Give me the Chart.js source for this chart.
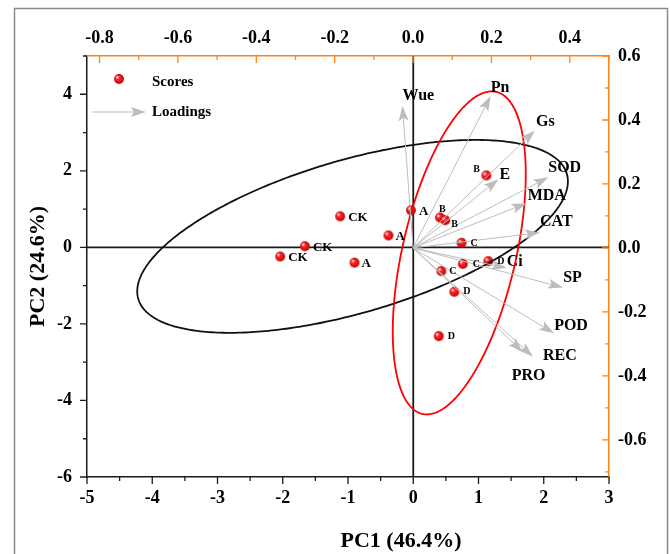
<!DOCTYPE html>
<html>
<head>
<meta charset="utf-8">
<script src="https://cdn.jsdelivr.net/npm/chart.js"></script>
<style>
  html, body { margin: 0; padding: 0; background: #fff; }
</style>
</head>
<body>
<canvas id="pca" width="670" height="554"></canvas>
<script>
// Scores on PC1 / PC2 (bottom + left axes)
const scoreLabels = ['CK', 'CK', 'CK', 'A', 'A', 'A', 'B', 'B', 'B', 'C', 'C', 'C', 'D', 'D', 'D'];
const scoreX = [-1.12, -1.66, -2.04, -0.38, -0.035, -0.90, 0.41, 0.49, 1.12, 0.74, 0.76, 0.43, 1.15, 0.63, 0.39];
const scoreY = [0.81, 0.03, -0.24, 0.31, 0.97, -0.40, 0.78, 0.71, 1.88, 0.12, -0.43, -0.62, -0.36, -1.16, -2.32];

// Loadings (top + right axes)
const loadingNames = ['Wue', 'Pn', 'Gs', 'E', 'SOD', 'MDA', 'CAT', 'Ci', 'SP', 'POD', 'REC', 'PRO'];
const loadingX = [-0.027, 0.198, 0.311, 0.218, 0.345, 0.290, 0.324, 0.239, 0.383, 0.360, 0.306, 0.280];
const loadingY = [0.444, 0.475, 0.367, 0.215, 0.221, 0.140, 0.048, -0.063, -0.124, -0.267, -0.340, -0.325];

// Confidence ellipses (score units): centre, half ranges, correlation
const ellipseCx = [-0.93, 0.705];
const ellipseCy = [0.287, -0.144];
const ellipseRx = [3.30, 1.019];
const ellipseRy = [2.52, 4.22];
const ellipseCorr = [0.57, 0.488];

const axisTitleX = 'PC1 (46.4%)';
const axisTitleY = 'PC2 (24.6%)';

const SERIF = "'Liberation Serif', 'Times New Roman', serif";
const ORANGE = '#ff8418';
const GREY = '#bdbdbd';
const ellipseColors = ['#111111', '#ff0000'];

// label placement (pixels, relative to the mark)
const scoreLabelOffsets = [[8, 1], [8, 1], [8, 1], [7, 1], [8, 1], [7, 1],
  [-1, -8], [6, 4], [-13, -6], [9, 1], [10, 1], [8, 0], [9, 0], [9, 0], [9, 0]];
const loadingLabelOffsets = [[0, -10], [0, -8], [1, -9], [1, -4], [0, -9], [1, -7],
  [0, -11], [0, -6], [0, -10], [0, -8], [10, -1], [-11, 24]];

// shaded red ball used for the score points
function makeSphere(r) {
    const c = document.createElement('canvas');
    const s = Math.ceil(r * 2) + 2;
    c.width = c.height = s;
    const g = c.getContext('2d');
    const m = s / 2;
    const grad = g.createRadialGradient(m - r * 0.4, m - r * 0.4, r * 0.1, m, m, r);
    grad.addColorStop(0, '#ffe0e0');
    grad.addColorStop(0.3, '#ff2a2a');
    grad.addColorStop(1, '#c00000');
    g.fillStyle = grad;
    g.beginPath();
    g.arc(m, m, r, 0, Math.PI * 2);
    g.fill();
    return c;
}
const sphere = makeSphere(4.9);

function drawArrow(ctx, x0, y0, x1, y1) {
    const a = Math.atan2(y1 - y0, x1 - x0);
    const len = 15, hw = 5, notch = 3;
    const bx = x1 - len * Math.cos(a), by = y1 - len * Math.sin(a);
    ctx.strokeStyle = GREY;
    ctx.fillStyle = GREY;
    ctx.lineWidth = 1;
    ctx.beginPath();
    ctx.moveTo(x0, y0);
    ctx.lineTo(bx + notch * Math.cos(a), by + notch * Math.sin(a));
    ctx.stroke();
    ctx.beginPath();
    ctx.moveTo(x1, y1);
    ctx.lineTo(bx - hw * Math.sin(a), by + hw * Math.cos(a));
    ctx.lineTo(bx + notch * Math.cos(a), by + notch * Math.sin(a));
    ctx.lineTo(bx + hw * Math.sin(a), by - hw * Math.cos(a));
    ctx.closePath();
    ctx.fill();
}

const pcaDecor = {
    id: 'pcaDecor',
    beforeDraw(chart) {
        const ctx = chart.ctx;
        ctx.save();
        ctx.strokeStyle = '#8a8a8a';
        ctx.lineWidth = 1.5;
        ctx.strokeRect(14.5, 8.5, 653, 600);
        ctx.restore();
    },
    beforeDatasetsDraw(chart) {
        const {ctx, chartArea: ca, scales} = chart;
        const x0 = scales.x.getPixelForValue(0);
        const y0 = scales.y.getPixelForValue(0);
        ctx.save();
        ctx.strokeStyle = '#1a1a1a';
        ctx.lineWidth = 1.8;
        ctx.beginPath();
        ctx.moveTo(ca.left, y0); ctx.lineTo(ca.right, y0);
        ctx.moveTo(x0, ca.top); ctx.lineTo(x0, ca.bottom);
        ctx.stroke();
        ctx.restore();
    },
    afterDatasetsDraw(chart) {
        const {ctx, chartArea: ca, scales} = chart;
        ctx.save();

        // ellipses
        ellipseCx.forEach((cx, k) => {
            const phi = Math.acos(ellipseCorr[k]);
            ctx.beginPath();
            for (let i = 0; i <= 360; i++) {
                const t = i * Math.PI / 180;
                const px = scales.x.getPixelForValue(cx + ellipseRx[k] * Math.cos(t));
                const py = scales.y.getPixelForValue(ellipseCy[k] + ellipseRy[k] * Math.cos(t - phi));
                if (i === 0) ctx.moveTo(px, py); else ctx.lineTo(px, py);
            }
            ctx.closePath();
            ctx.strokeStyle = ellipseColors[k];
            ctx.lineWidth = 1.8;
            ctx.stroke();
        });

        // loading arrows from the origin
        const ox = scales.x2.getPixelForValue(0);
        const oy = scales.y2.getPixelForValue(0);
        const lMeta = chart.getDatasetMeta(1);
        lMeta.data.forEach((pt, i) => drawArrow(ctx, ox, oy, pt.x, pt.y));

        ctx.fillStyle = '#000';
        ctx.textBaseline = 'middle';
        ctx.textAlign = 'left';
        ctx.font = `bold 16px ${SERIF}`;
        lMeta.data.forEach((pt, i) => {
            const [dx, dy] = loadingLabelOffsets[i];
            ctx.fillText(loadingNames[i], pt.x + dx, pt.y + dy);
        });

        // score labels
        const sMeta = chart.getDatasetMeta(0);
        sMeta.data.forEach((pt, i) => {
            const lab = scoreLabels[i];
            const size = (lab === 'CK' || lab === 'A') ? 13 : 10;
            ctx.font = `bold ${size}px ${SERIF}`;
            const [dx, dy] = scoreLabelOffsets[i];
            ctx.fillText(lab, pt.x + dx, pt.y + dy);
        });

        // legend
        const lx = ca.left, ly = ca.top;
        ctx.drawImage(sphere, lx + 32 - sphere.width / 2, ly + 23 - sphere.height / 2);
        drawArrow(ctx, lx + 5, ly + 56, lx + 59, ly + 56);
        ctx.font = `bold 15px ${SERIF}`;
        ctx.fillStyle = '#000';
        ctx.fillText(chart.data.datasets[0].label, lx + 65, ly + 26);
        ctx.fillText(chart.data.datasets[1].label, lx + 65, ly + 56);
        ctx.restore();
    },
    afterDraw(chart) {
        const {ctx, chartArea: ca, scales} = chart;
        ctx.save();
        ctx.lineWidth = 1.3;
        const marks = [
            {s: scales.x, major: v => Math.abs(v - Math.round(v)) < 1e-6, color: '#1a1a1a'},
            {s: scales.y, major: v => Math.round(v) % 2 === 0, color: '#1a1a1a'},
            {s: scales.x2, major: v => Math.round(v * 10) % 2 === 0, color: ORANGE},
            {s: scales.y2, major: v => Math.round(v * 10) % 2 === 0, color: ORANGE}
        ];
        marks.forEach(({s, major, color}) => {
            ctx.strokeStyle = color;
            ctx.beginPath();
            s.ticks.forEach(t => {
                if (t.value < s.min - 1e-9 || t.value > s.max + 1e-9) return;
                const len = major(t.value) ? 7 : 4;
                const p = s.getPixelForValue(t.value);
                if (s.id === 'x') { ctx.moveTo(p, ca.bottom); ctx.lineTo(p, ca.bottom + len); }
                if (s.id === 'x2') { ctx.moveTo(p, ca.top); ctx.lineTo(p, ca.top + len); }
                if (s.id === 'y') { ctx.moveTo(ca.left, p); ctx.lineTo(ca.left - len, p); }
                if (s.id === 'y2') { ctx.moveTo(ca.right, p); ctx.lineTo(ca.right - len, p); }
            });
            ctx.stroke();
        });

        // bottom axis title (sits right of the plot centre in the original)
        ctx.fillStyle = '#000';
        ctx.font = `bold 22px ${SERIF}`;
        ctx.textAlign = 'center';
        ctx.textBaseline = 'middle';
        ctx.fillText(axisTitleX, (ca.left + ca.right) / 2 + 53, 541);
        ctx.restore();
    }
};

const tickFont = {family: SERIF, weight: 'bold', size: 18};

new Chart(document.getElementById('pca'), {
    type: 'scatter',
    data: {
        datasets: [
            {
                label: 'Scores',
                data: scoreX.map((x, i) => ({x: x, y: scoreY[i]})),
                xAxisID: 'x', yAxisID: 'y',
                pointStyle: sphere,
                pointRadius: 4.9,
                pointHoverRadius: 4.9
            },
            {
                label: 'Loadings',
                data: loadingX.map((x, i) => ({x: x, y: loadingY[i]})),
                xAxisID: 'x2', yAxisID: 'y2',
                pointRadius: 0,
                pointHoverRadius: 0
            }
        ]
    },
    options: {
        responsive: false,
        animation: false,
        events: [],
        layout: {padding: 0},
        plugins: {
            legend: {display: false},
            tooltip: {enabled: false}
        },
        scales: {
            x: {
                type: 'linear', position: 'bottom', min: -5, max: 3,
                grid: {display: false, drawTicks: false},
                border: {display: true, color: '#1a1a1a', width: 1.5},
                ticks: {
                    stepSize: 0.5, autoSkip: false, maxRotation: 0, padding: 11,
                    color: '#000', font: tickFont,
                    callback: v => Math.abs(v - Math.round(v)) < 1e-6 ? String(Math.round(v)) : ''
                },
                afterFit: s => { s.height = 77; }
            },
            y: {
                type: 'linear', position: 'left', min: -6, max: 5,
                grid: {display: false, drawTicks: false},
                border: {display: true, color: '#1a1a1a', width: 1.5},
                ticks: {
                    stepSize: 1, autoSkip: false, padding: 15,
                    color: '#000', font: tickFont,
                    callback: v => Math.round(v) % 2 === 0 ? String(Math.round(v)) : ''
                },
                title: {
                    display: true, text: axisTitleY, color: '#000',
                    font: {family: SERIF, weight: 'bold', size: 22},
                    padding: {top: 25, bottom: 0}
                },
                afterFit: s => { s.width = 87; }
            },
            x2: {
                type: 'linear', position: 'top', min: -0.832, max: 0.5,
                grid: {display: false, drawTicks: false},
                border: {display: true, color: ORANGE, width: 1.5},
                ticks: {
                    stepSize: 0.1, includeBounds: false, autoSkip: false, maxRotation: 0, padding: 7,
                    color: '#000', font: tickFont,
                    callback: v => Math.round(v * 10) % 2 === 0 ? v.toFixed(1) : ''
                },
                afterFit: s => { s.height = 56; }
            },
            y2: {
                type: 'linear', position: 'right', min: -0.716, max: 0.6,
                grid: {display: false, drawTicks: false},
                border: {display: true, color: ORANGE, width: 1.5},
                ticks: {
                    stepSize: 0.1, includeBounds: false, autoSkip: false, padding: 9,
                    color: '#000', font: tickFont,
                    callback: v => Math.round(v * 10) % 2 === 0 ? v.toFixed(1) : ''
                },
                afterFit: s => { s.width = 61; }
            }
        }
    },
    plugins: [pcaDecor]
});
</script>
</body>
</html>
